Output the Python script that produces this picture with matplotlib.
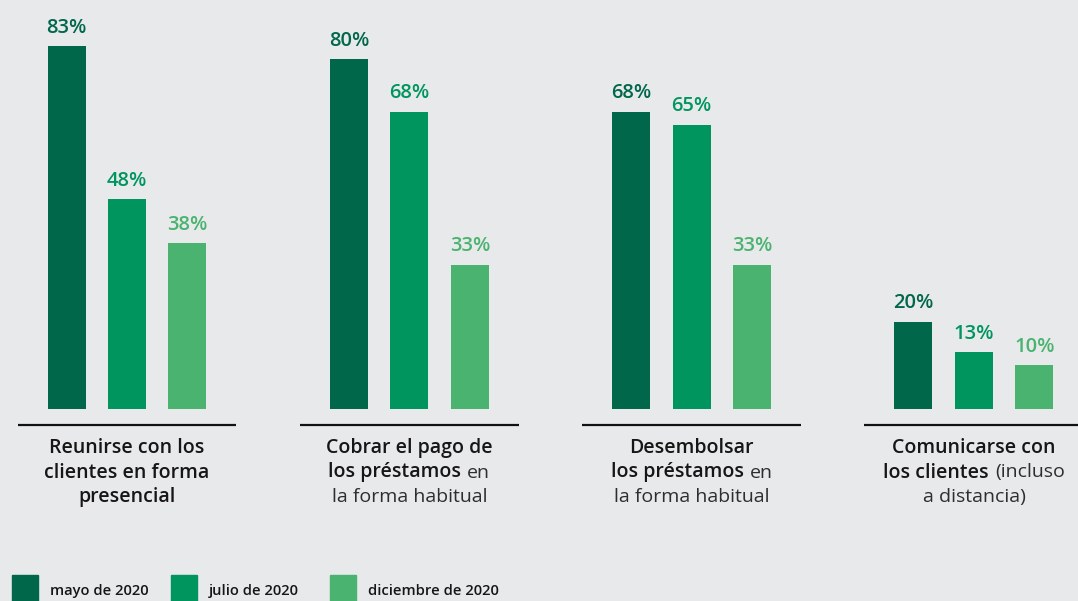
import matplotlib
matplotlib.use("Agg")
import matplotlib.pyplot as plt
from matplotlib.patches import Rectangle
from matplotlib.transforms import offset_copy

periods = ["mayo de 2020", "julio de 2020", "diciembre de 2020"]
colors = ["#00674B", "#00955F", "#4BB370"]

# porcentaje por actividad (una lista por periodo)
mayo = [83, 80, 68, 20]
julio = [48, 68, 65, 13]
diciembre = [38, 33, 33, 10]
series = [mayo, julio, diciembre]

# etiquetas de cada grupo: lineas con tramos (texto, negrita?)
group_labels = [
    [[("Reunirse con los", True)], [("clientes en forma", True)], [("presencial", True)]],
    [[("Cobrar el pago de", True)], [("los préstamos", True), ("en", False)],
     [("la forma habitual", False)]],
    [[("Desembolsar", True)], [("los préstamos", True), ("en", False)],
     [("la forma habitual", False)]],
    [[("Comunicarse con", True)], [("los clientes", True), ("(incluso", False)],
     [("a distancia)", False)]],
]

BG = "#E8E9EB"
FONT = "Open Sans"
W, H = 1078, 601
PX_PER_PCT = 4.375
BASE_PX = 409          # baseline, pixels from the top
GROUP_PX = 282.33
FIRST_PX = 127

fig = plt.figure(figsize=(W / 100, H / 100), dpi=100, facecolor=BG)
ax = fig.add_axes([0, 0, 1, 1])
ax.set_facecolor(BG)
ax.set_xlim(-FIRST_PX / GROUP_PX, (W - FIRST_PX) / GROUP_PX)
ax.set_ylim(-(H - BASE_PX) / PX_PER_PCT, BASE_PX / PX_PER_PCT)
ax.axis("off")

offset = 60.5 / GROUP_PX
width = 38 / GROUP_PX
x = list(range(len(mayo)))

for k, (vals, col) in enumerate(zip(series, colors)):
    xs = [i + (k - 1) * offset for i in x]
    bars = ax.bar(xs, vals, width=width, color=col, zorder=2)
    for b, v in zip(bars, vals):
        ax.annotate(f"{v}%", (b.get_x() + b.get_width() / 2, v),
                    xytext=(0, 9.5), textcoords="offset points",
                    ha="center", va="baseline", fontsize=14.5,
                    family=FONT, weight="semibold", color=col)

# linea base de cada grupo
half = 109.5 / GROUP_PX
line_y = -16 / PX_PER_PCT
for i in x:
    ax.plot([i - half, i + half], [line_y, line_y], color="#111111",
            lw=1.6, solid_capstyle="butt")

renderer = fig.canvas.get_renderer()


def text_width(s, bold, size):
    t = fig.text(0, 0, s, fontsize=size, family=FONT,
                 weight="semibold" if bold else "normal")
    w = t.get_window_extent(renderer).width
    t.remove()
    return w


LABEL_SIZE = 14
space = max(text_width("a a", False, LABEL_SIZE) - text_width("aa", False, LABEL_SIZE),
            0.3 * LABEL_SIZE * 100 / 72)

for i, lines in zip(x, group_labels):
    for j, parts in enumerate(lines):
        widths = [text_width(s, b, LABEL_SIZE) for s, b in parts]
        total = sum(widths) + space * (len(parts) - 1)
        cur = -total / 2
        dy = -(39 + 24.5 * j)
        for (s, b), w in zip(parts, widths):
            tr = offset_copy(ax.transData, fig=fig, x=cur, y=dy, units="dots")
            ax.text(i, 0, s, transform=tr, ha="left", va="center",
                    fontsize=LABEL_SIZE, family=FONT,
                    weight="semibold" if b else "normal",
                    color="#161616" if b else "#2e2e2e")
            cur += w + space

# leyenda
leg_x = [12, 171, 330]
for lx, lab, col in zip(leg_x, periods, colors):
    fig.add_artist(Rectangle((lx / W, 0), 26 / W, 26 / H,
                             transform=fig.transFigure, color=col))
    fig.text((lx + 38) / W, 1 - 591 / H, lab, fontsize=10.6, family=FONT,
             weight="semibold", color="#161616", va="center", ha="left")

fig.savefig("out.png", dpi=100, facecolor=BG)
